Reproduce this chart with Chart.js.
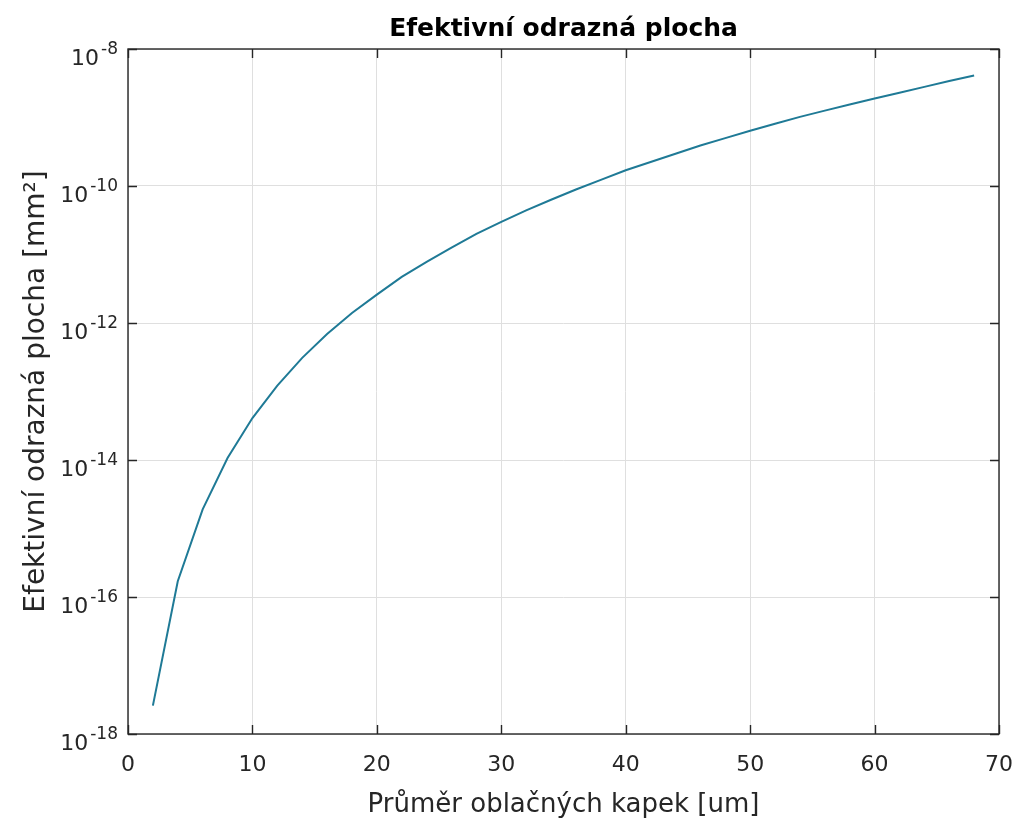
<!DOCTYPE html>
<html lang="cs">
<head>
<meta charset="utf-8">
<title>Efektivní odrazná plocha</title>
<script src="https://cdn.jsdelivr.net/npm/chart.js@4.4.0/dist/chart.umd.min.js"></script>
<style>
  html, body { margin: 0; padding: 0; background: #fff; }
  #wrap { width: 1019px; height: 824px; }
</style>
</head>
<body>
<div id="wrap"><canvas id="chart" width="1019" height="824"></canvas></div>
<script>
  // průměr kapky [um]
  const diameters = [2, 4, 6, 8, 10, 12, 14, 16, 18, 20, 22, 24, 26, 28, 30, 32, 34,
    36, 38, 40, 42, 44, 46, 48, 50, 52, 54, 56, 58, 60, 62, 64, 66, 68];

  // efektivní odrazná plocha [mm^2]
  const crossSection = [2.6e-18, 1.7e-16, 1.9e-15, 1.07e-14, 4.1e-14, 1.22e-13, 3.1e-13,
    6.9e-13, 1.4e-12, 2.6e-12, 4.7e-12, 7.8e-12, 1.26e-11, 2.0e-11, 3.0e-11, 4.4e-11,
    6.3e-11, 8.9e-11, 1.23e-10, 1.7e-10, 2.24e-10, 2.96e-10, 3.9e-10, 5.0e-10, 6.4e-10,
    8.1e-10, 1.02e-9, 1.26e-9, 1.55e-9, 1.9e-9, 2.3e-9, 2.8e-9, 3.4e-9, 4.1e-9];

  const xTicks = [0, 10, 20, 30, 40, 50, 60, 70];
  const yTicks = [1e-18, 1e-16, 1e-14, 1e-12, 1e-10, 1e-8];
  const yTickExponents = ["-18", "-16", "-14", "-12", "-10", "-8"];

  const FONT = '"DejaVu Sans", "Liberation Sans", Arial, sans-serif';
  const INK = "#262626";
  const GRID = "#dfdfdf";

  Chart.defaults.font.family = FONT;
  Chart.defaults.color = INK;

  // popisky osy y ve tvaru 10^n (exponent jako horní index)
  const logTickLabels = {
    id: "logTickLabels",
    afterDraw(chart) {
      const { ctx, scales: { y } } = chart;
      const right = chart.chartArea.left - 10;
      ctx.save();
      ctx.fillStyle = INK;
      ctx.textAlign = "right";
      ctx.textBaseline = "alphabetic";
      yTicks.forEach((v, i) => {
        const py = y.getPixelForValue(v);
        ctx.font = `17px ${FONT}`;
        const expW = ctx.measureText(yTickExponents[i]).width;
        ctx.fillText(yTickExponents[i], right, py + 5);
        ctx.font = `22px ${FONT}`;
        ctx.fillText("10", right - expW - 2, py + 16);
      });
      ctx.restore();
    }
  };

  // rámeček grafu a dovnitř směřující značky
  const axesBox = {
    id: "axesBox",
    afterDatasetsDraw(chart) {
      const { ctx, chartArea: a, scales: { x, y } } = chart;
      const len = 9;
      ctx.save();
      ctx.strokeStyle = INK;
      ctx.lineWidth = 1.4;
      ctx.beginPath();
      xTicks.forEach((v) => {
        const px = Math.round(x.getPixelForValue(v)) + 0.5;
        ctx.moveTo(px, a.bottom); ctx.lineTo(px, a.bottom - len);
        ctx.moveTo(px, a.top); ctx.lineTo(px, a.top + len);
      });
      yTicks.forEach((v) => {
        const py = Math.round(y.getPixelForValue(v)) + 0.5;
        ctx.moveTo(a.left, py); ctx.lineTo(a.left + len, py);
        ctx.moveTo(a.right, py); ctx.lineTo(a.right - len, py);
      });
      ctx.stroke();
      ctx.strokeRect(a.left, a.top, a.right - a.left, a.bottom - a.top);
      ctx.restore();
    }
  };

  new Chart(document.getElementById("chart"), {
    type: "line",
    data: {
      datasets: [{
        data: diameters.map((d, i) => ({ x: d, y: crossSection[i] })),
        borderColor: "#1f7a96",
        borderWidth: 2,
        pointRadius: 0,
        tension: 0,
        fill: false
      }]
    },
    options: {
      responsive: false,
      animation: false,
      devicePixelRatio: 1,
      layout: { padding: { left: 0, right: 20, top: 0, bottom: 0 } },
      plugins: {
        legend: { display: false },
        tooltip: { enabled: false },
        title: {
          display: true,
          text: "Efektivní odrazná plocha",
          fullSize: false,
          color: "#000",
          font: { family: FONT, size: 25, weight: "bold" },
          padding: { top: 14, bottom: 5 }
        }
      },
      scales: {
        x: {
          type: "linear",
          min: 0,
          max: 70,
          afterBuildTicks: (s) => { s.ticks = xTicks.map((v) => ({ value: v })); },
          afterFit: (s) => {
            s.height = 90;
            s.paddingLeft = 0;
            s.paddingRight = 0;
          },
          ticks: { font: { size: 22 }, color: INK, padding: 18, maxRotation: 0 },
          grid: { color: GRID, lineWidth: 1, drawTicks: false },
          border: { display: false },
          title: {
            display: true,
            text: "Průměr oblačných kapek [um]",
            color: INK,
            font: { size: 26 },
            padding: { top: 0, bottom: 3 }
          }
        },
        y: {
          type: "logarithmic",
          min: 1e-18,
          max: 1e-8,
          afterBuildTicks: (s) => { s.ticks = yTicks.map((v) => ({ value: v })); },
          afterFit: (s) => { s.width = 128; },
          ticks: { display: false },
          grid: { color: GRID, lineWidth: 1, drawTicks: false },
          border: { display: false },
          title: {
            display: true,
            text: "Efektivní odrazná plocha [mm²]",
            color: INK,
            font: { size: 28 },
            padding: { top: 20, bottom: 0 }
          }
        }
      }
    },
    plugins: [logTickLabels, axesBox]
  });
</script>
</body>
</html>
